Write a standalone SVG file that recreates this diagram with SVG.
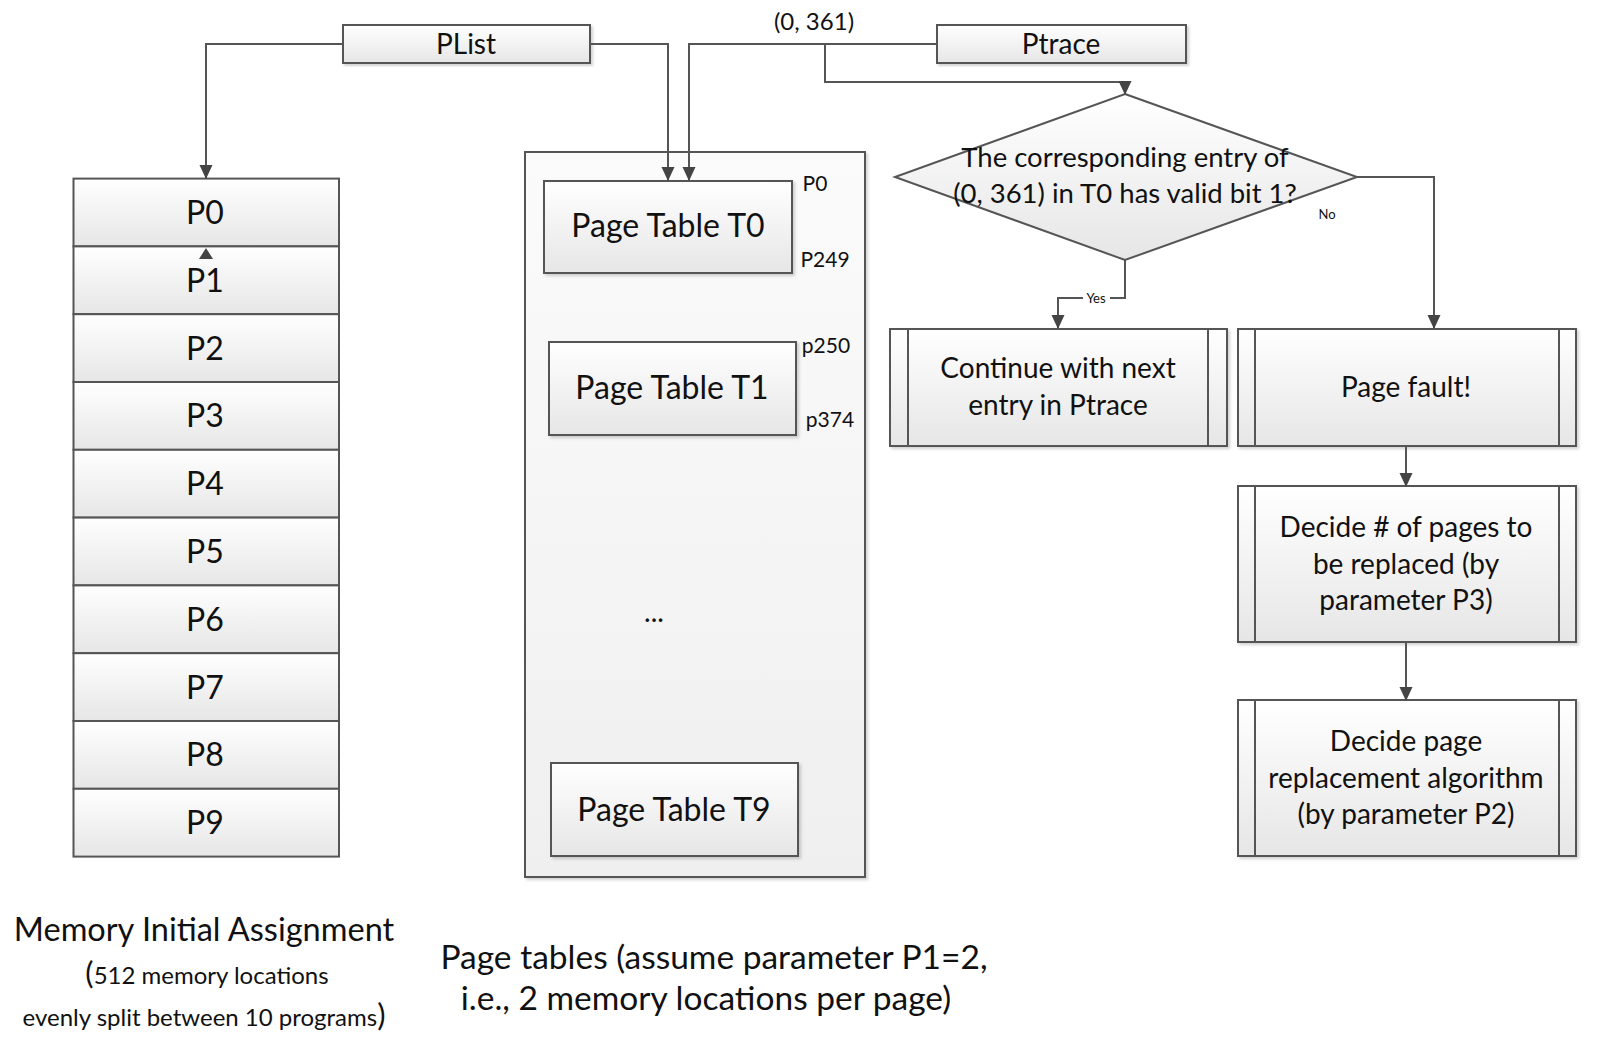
<svg xmlns="http://www.w3.org/2000/svg" width="1600" height="1041" viewBox="0 0 1600 1041">
<defs>
<linearGradient id="g" x1="0" y1="0" x2="0" y2="1">
<stop offset="0" stop-color="#ffffff"/>
<stop offset="1" stop-color="#e6e6e6"/>
</linearGradient>
<linearGradient id="gc" x1="0" y1="0" x2="0" y2="1">
<stop offset="0" stop-color="#fbfbfb"/>
<stop offset="1" stop-color="#efefef"/>
</linearGradient>
<filter id="sh" x="-5%" y="-5%" width="110%" height="115%">
<feDropShadow dx="2" dy="2" stdDeviation="1.5" flood-color="#000" flood-opacity="0.18"/>
</filter>
<marker id="ah" markerWidth="14" markerHeight="14" refX="13" refY="7" orient="auto" markerUnits="userSpaceOnUse">
<path d="M0,0.5 L14,7 L0,13.5 z" fill="#444"/>
</marker>
</defs>
<style>
.box{fill:url(#g);stroke:#555;stroke-width:2}
.cont{fill:url(#gc);stroke:#555;stroke-width:2}
.ln{fill:none;stroke:#555;stroke-width:2}
.conn{fill:none;stroke:#555;stroke-width:2;marker-end:url(#ah)}
text{font-family:Lato,"Open Sans",sans-serif;fill:#111;text-anchor:middle}
.big{font-size:32px}
.mid{font-size:28px}
.sm{font-size:21px}
.lbl{font-size:24px}
.tiny{font-size:13px}
</style>

<g id="plist">
<rect class="box" filter="url(#sh)" x="343" y="25" width="247" height="38"/>
<text class="mid" x="466" y="54">PList</text>
</g>
<g id="ptrace">
<rect class="box" filter="url(#sh)" x="937" y="25" width="249" height="38"/>
<text class="mid" x="1061" y="54">Ptrace</text>
</g>

<g id="memory">
<rect class="box" x="73.5" y="178.6" width="265.5" height="67.8"/>
<rect class="box" x="73.5" y="246.4" width="265.5" height="67.8"/>
<rect class="box" x="73.5" y="314.2" width="265.5" height="67.8"/>
<rect class="box" x="73.5" y="382" width="265.5" height="67.8"/>
<rect class="box" x="73.5" y="449.8" width="265.5" height="67.8"/>
<rect class="box" x="73.5" y="517.6" width="265.5" height="67.8"/>
<rect class="box" x="73.5" y="585.4" width="265.5" height="67.8"/>
<rect class="box" x="73.5" y="653.2" width="265.5" height="67.8"/>
<rect class="box" x="73.5" y="721" width="265.5" height="67.8"/>
<rect class="box" x="73.5" y="788.8" width="265.5" height="67.8"/>
<text class="big" x="205" y="224">P0</text>
<text class="big" x="205" y="292">P1</text>
<text class="big" x="205" y="360">P2</text>
<text class="big" x="205" y="427">P3</text>
<text class="big" x="205" y="495">P4</text>
<text class="big" x="205" y="563">P5</text>
<text class="big" x="205" y="631">P6</text>
<text class="big" x="205" y="699">P7</text>
<text class="big" x="205" y="766">P8</text>
<text class="big" x="205" y="834">P9</text>
</g>

<g id="pagetables">
<rect class="cont" filter="url(#sh)" x="525" y="152" width="340" height="725"/>
<g id="t0">
<rect class="box" filter="url(#sh)" x="544" y="181" width="248" height="92"/>
<text class="big" x="668" y="237">Page Table T0</text>
<text class="sm" x="815" y="191">P0</text>
<text class="sm" x="825" y="267">P249</text>
</g>
<g id="t1">
<rect class="box" filter="url(#sh)" x="549" y="342" width="247" height="93"/>
<text class="big" x="672" y="399">Page Table T1</text>
<text class="sm" x="826" y="353">p250</text>
<text class="sm" x="830" y="427">p374</text>
</g>
<text class="mid" x="654" y="622">...</text>
<g id="t9">
<rect class="box" filter="url(#sh)" x="551" y="763" width="247" height="93"/>
<text class="big" x="674" y="821">Page Table T9</text>
</g>
</g>

<g id="decision">
<path class="box" d="M1125,94 L1357,177 L1125,260 L895,177 z"/>
<text style="font-size:27.5px" x="1125" y="167">The corresponding entry of</text>
<text style="font-size:27.5px" x="1125" y="203">(0, 361) in T0 has valid bit 1?</text>
</g>

<g id="continue">
<rect class="box" filter="url(#sh)" x="890" y="329" width="337" height="117"/>
<path class="ln" d="M908,329 V446 M1208,329 V446"/>
<text class="mid" x="1058" y="378">Continue with next</text>
<text class="mid" x="1058" y="415">entry in Ptrace</text>
</g>

<g id="pagefault">
<rect class="box" filter="url(#sh)" x="1238" y="329" width="338" height="117"/>
<path class="ln" d="M1255,329 V446 M1559,329 V446"/>
<text class="mid" x="1406" y="397">Page fault!</text>
</g>

<g id="decidenum">
<rect class="box" filter="url(#sh)" x="1238" y="486" width="338" height="156"/>
<path class="ln" d="M1255,486 V642 M1559,486 V642"/>
<text class="mid" x="1406" y="537">Decide # of pages to</text>
<text class="mid" x="1406" y="574">be replaced (by</text>
<text class="mid" x="1406" y="610">parameter P3)</text>
</g>

<g id="decidealg">
<rect class="box" filter="url(#sh)" x="1238" y="700" width="338" height="156"/>
<path class="ln" d="M1255,700 V856 M1559,700 V856"/>
<text class="mid" x="1406" y="751">Decide page</text>
<text class="mid" x="1406" y="788">replacement algorithm</text>
<text class="mid" x="1406" y="824">(by parameter P2)</text>
</g>

<g id="captions">
<text style="font-size:32.5px" x="204" y="941">Memory Initial Assignment</text>
<text x="207" y="984"><tspan style="font-size:31px">(</tspan><tspan style="font-size:24px">512 memory locations</tspan></text>
<text x="204" y="1026"><tspan style="font-size:24px">evenly split between 10 programs</tspan><tspan style="font-size:31px">)</tspan></text>
<text style="font-size:33.5px" x="714" y="969">Page tables (assume parameter P1=2,</text>
<text style="font-size:33.5px" x="706" y="1010">i.e., 2 memory locations per page)</text>
</g>

<g id="connectors">
<path class="conn" d="M343,44 H206 V178"/>
<path class="conn" d="M590,44 H668 V180"/>
<path class="conn" d="M937,44 H689 V180"/>
<path class="conn" d="M825,44 V82 H1125 V94"/>
<path class="conn" d="M1125,260 V298 H1058 V328"/>
<path class="conn" d="M1357,177 H1434 V328"/>
<path class="conn" d="M1406,446 V486"/>
<path class="conn" d="M1406,642 V700"/>
<path d="M206,248 L213,259 L199,259 z" fill="#444"/>
<rect x="1083" y="290" width="27" height="15" fill="#fff"/>
<text class="tiny" x="1096" y="303">Yes</text>
<text class="tiny" x="1327" y="219">No</text>
<text class="lbl" x="814" y="30">(0, 361)</text>
</g>
</svg>
